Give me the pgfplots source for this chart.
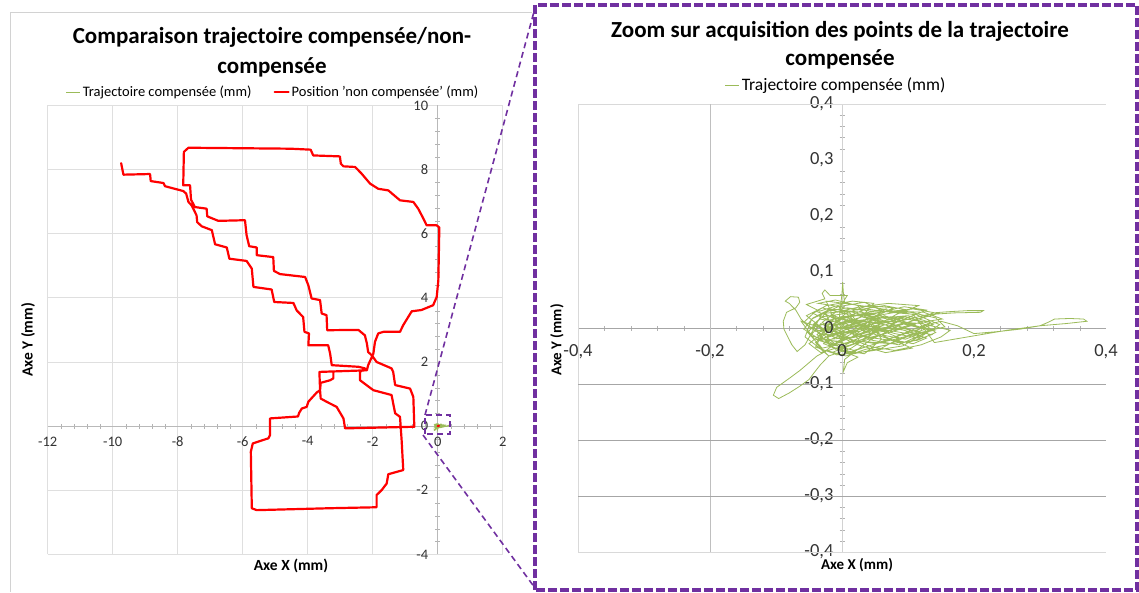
\documentclass[border=0pt]{standalone}
\usepackage{fontspec}
\setmainfont{Carlito}
\usepackage{pgfplots}
\usepackage{pgfplotstable}
\pgfplotsset{compat=1.18}
\definecolor{vert}{HTML}{9BBB59}
\definecolor{zoomviolet}{HTML}{7030A0}

% position 'non compensee' (mm)
\pgfplotstableread{
x y
-9.74 8.20
-9.67 7.84
-8.85 7.86
-8.83 7.64
-8.44 7.58
-8.39 7.48
-7.83 7.33
-7.74 7.25
-7.67 6.99
-7.57 6.88
-7.52 6.78
-7.42 6.57
-7.40 6.36
-7.26 6.23
-6.95 6.11
-6.85 5.67
-6.49 5.57
-6.41 5.22
-5.88 5.15
-5.72 4.91
-5.67 4.34
-5.11 4.26
-5.03 3.87
-4.44 3.84
-4.34 3.61
-4.14 3.40
-4.10 2.94
-3.96 2.89
-3.98 2.52
-3.37 2.52
-3.31 2.26
-3.26 1.90
-2.44 1.85
-2.24 1.80
-2.39 1.69
-2.39 1.43
-1.98 1.12
-1.42 0.97
-1.31 0.40
-1.16 0.29
-1.11 -0.44
-1.06 -1.37
-1.52 -1.50
-1.57 -1.79
-1.72 -1.99
-1.88 -2.15
-1.88 -2.53
-3.31 -2.56
-5.57 -2.62
-5.72 -2.56
-5.75 -0.80
-5.69 -0.54
-5.21 -0.38
-5.16 -0.28
-5.16 0.24
-4.30 0.30
-4.26 0.42
-4.18 0.55
-4.03 0.60
-3.98 0.76
-3.72 1.05
-3.62 1.12
-3.64 1.69
-2.18 1.74
-2.14 1.90
-1.98 2.26
-1.93 2.63
-1.83 2.89
-1.67 2.94
-1.16 2.94
-1.06 3.15
-0.80 3.58
-0.50 3.62
-0.14 3.77
-0.03 4.03
0.02 4.55
0.05 6.19
-0.03 6.26
-0.34 6.26
-0.44 6.47
-0.60 6.78
-0.75 6.99
-1.16 7.04
-1.52 7.35
-1.83 7.40
-2.08 7.56
-2.34 7.87
-2.54 8.08
-2.90 8.10
-2.98 8.18
-3.01 8.41
-3.83 8.44
-3.91 8.62
-4.54 8.65
-7.67 8.68
-7.81 8.55
-7.83 7.51
-7.62 7.51
-7.59 7.06
-7.47 6.83
-7.11 6.78
-7.09 6.54
-6.75 6.40
-5.93 6.42
-5.88 5.95
-5.80 5.61
-5.57 5.57
-5.57 5.33
-5.06 5.27
-5.04 4.84
-4.85 4.74
-4.08 4.65
-3.98 4.39
-3.88 3.98
-3.62 3.93
-3.57 3.51
-3.42 3.46
-3.40 2.99
-2.44 3.00
-2.24 2.83
-2.18 2.58
-2.14 2.31
-2.03 2.21
-1.88 2.00
-1.42 1.80
-1.37 1.69
-1.31 1.28
-0.85 1.17
-0.75 0.91
-0.72 -0.02
-2.85 -0.07
-2.90 0.24
-3.11 0.60
-3.42 0.76
-3.60 0.86
-3.62 1.12
-3.60 1.35
-3.31 1.43
-3.21 1.49
-3.21 1.69
nan nan
0.00 0.00
0.04 0.01
}\rouge

% trajectoire compensee (mm)
\pgfplotstableread{
x y
0 0
0.035 0.012
0.072 -0.008
0.110 0.006
0.064 0.022
0.012 -0.018
-0.032 0.008
-0.048 -0.014
0.006 -0.028
0.058 -0.012
0.096 -0.020
0.132 -0.004
0.088 0.014
0.030 0.028
-0.018 0.034
-0.044 0.018
-0.058 -0.002
-0.026 -0.026
0.018 -0.040
0.046 -0.030
0.084 -0.014
0.122 0.004
0.150 0.012
0.175 0.004
0.200 -0.010
0.240 -0.006
0.270 -0.002
0.300 0.004
0.312 0.010
0.322 0.016
0.345 0.017
0.366 0.016
0.371 0.012
0.340 0.008
0.300 0.004
0.250 -0.004
0.200 -0.014
0.160 -0.022
0.140 -0.026
0.108 0.024
0.052 0.036
0.004 0.044
-0.024 0.048
-0.014 0.022
0.022 0.008
0.070 -0.004
0.118 -0.014
0.092 -0.032
0.038 -0.042
-0.008 -0.048
-0.022 -0.040
-0.038 -0.050
-0.052 -0.064
-0.064 -0.076
-0.080 -0.090
-0.099 -0.106
-0.104 -0.120
-0.096 -0.126
-0.080 -0.116
-0.064 -0.104
-0.050 -0.092
-0.043 -0.081
-0.033 -0.066
-0.020 -0.050
-0.036 -0.034
-0.056 -0.016
-0.046 0.016
-0.006 0.038
0.034 0.046
0.062 0.030
0.104 0.028
0.142 0.018
0.156 0.002
0.112 -0.010
0.064 0.006
0.014 0.016
-0.038 -0.006
-0.016 -0.034
0.024 -0.052
0.008 -0.062
0.002 -0.078
0.004 -0.056
0.042 -0.022
0.086 0.004
0.124 0.020
0.138 0.027
0.160 0.029
0.190 0.031
0.214 0.031
0.210 0.028
0.170 0.027
0.130 0.024
0.080 0.010
0.026 -0.006
-0.020 -0.012
-0.052 0.004
-0.062 0.016
-0.070 0.032
-0.080 0.044
-0.086 0.048
-0.078 0.056
-0.066 0.055
-0.064 0.046
-0.070 0.036
-0.084 0.028
-0.089 0.012
-0.088 -0.002
-0.082 -0.016
-0.076 -0.030
-0.068 -0.042
-0.056 -0.030
-0.030 0.026
0.010 0.030
0.056 0.016
0.098 -0.002
0.136 -0.012
0.100 -0.026
0.048 -0.018
0.002 -0.006
-0.028 -0.018
-0.010 -0.038
0.030 -0.024
0.074 -0.028
0.114 -0.022
0.142 -0.008
0.118 0.012
0.074 0.020
0.028 0.014
-0.012 0.004
-0.040 -0.026
-0.020 -0.050
0.014 -0.036
0.050 -0.008
0.090 0.014
0.128 0.032
0.094 0.038
0.044 0.024
-0.004 0.020
-0.002 0.040
0.000 0.062
0.001 0.082
0.002 0.064
0.004 0.044
-0.034 0.030
-0.054 0.042
-0.026 0.052
-0.030 0.062
-0.026 0.068
-0.018 0.058
0.008 0.058
-0.004 0.036
0.020 0.012
0.066 -0.016
0.106 -0.036
0.066 -0.044
0.024 -0.030
-0.006 -0.014
-0.036 0.002
-0.062 0.012
-0.042 -0.020
-0.002 -0.024
0.040 -0.004
0.082 0.024
0.116 0.040
0.070 0.044
0.028 0.038
-0.010 0.028
-0.030 0.010
0.004 -0.016
0.046 -0.034
0.080 -0.040
0.120 -0.030
0.150 -0.016
0.164 -0.004
0.120 0.008
0.070 0.012
0.020 0.002
-0.024 -0.004
-0.050 -0.028
-0.032 -0.044
0.002 -0.032
0.036 -0.012
0.076 0.002
0.116 0.016
0.146 0.026
0.108 0.034
0.058 0.028
0.014 0.022
-0.020 0.014
-0.044 0.026
-0.024 0.040
0.016 0.048
0.048 0.044
0.030 0.020
-0.006 0.006
-0.028 -0.028
0.010 -0.044
0.056 -0.026
0.096 -0.010
0.138 0.006
0.096 0.020
0.050 0.004
0.006 -0.008
-0.016 -0.020
0.016 -0.016
0.054 -0.002
0.088 -0.018
0.060 -0.036
0.018 -0.046
-0.014 -0.028
-0.038 -0.012
-0.018 0.010
0.024 0.024
0.066 0.034
0.038 0.010
0.000 -0.002
0.020 0.010
-0.010 0.020
-0.030 -0.010
0.000 -0.020
0.030 0.000
0.010 0.030
-0.020 0.000
0.015 -0.010
0.045 0.015
0.025 -0.020
-0.005 0.012
-0.025 0.025
0.005 -0.035
0.040 -0.015
0.060 0.010
0.030 0.020
0.000 0.005
0.010 0.018
0.048 -0.006
0.090 0.008
0.126 -0.002
0.094 -0.016
0.052 -0.028
0.016 -0.022
-0.018 -0.008
-0.044 0.006
-0.030 0.020
0.006 0.026
0.042 0.018
0.078 0.006
0.112 -0.006
0.134 0.010
0.100 0.022
0.060 0.018
0.024 0.004
-0.012 -0.010
-0.036 -0.022
-0.012 -0.030
0.022 -0.012
0.058 0.002
0.094 -0.004
0.128 -0.018
0.108 -0.028
0.072 -0.020
0.036 -0.006
0.000 0.010
-0.034 0.016
-0.052 -0.008
-0.030 -0.036
0.008 -0.026
0.044 -0.010
0.080 -0.002
0.118 0.010
0.152 0.016
0.124 0.028
0.084 0.030
0.044 0.030
0.008 0.036
-0.022 0.030
-0.040 0.008
-0.020 -0.016
0.014 -0.004
0.052 0.010
0.092 0.020
0.070 0.000
0.030 -0.014
-0.004 -0.022
-0.024 -0.040
0.006 -0.050
0.036 -0.038
0.068 -0.030
0.102 -0.014
0.140 -0.004
0.110 0.004
0.070 0.016
0.032 0.024
-0.006 0.016
-0.040 0.030
-0.058 0.010
-0.040 -0.006
-0.008 0.000
0.026 0.010
0.062 0.024
0.100 0.032
0.064 0.040
0.022 0.032
-0.014 0.040
-0.036 0.044
-0.010 0.050
0.024 0.040
0.040 0.012
0.060 -0.020
0.034 -0.046
0.002 -0.040
-0.026 -0.014
-0.048 0.000
-0.024 0.008
0.012 -0.004
0.046 -0.022
0.086 -0.030
0.124 -0.010
0.090 0.000
0.056 -0.014
0.020 -0.028
-0.016 -0.044
-0.040 -0.034
-0.028 -0.006
0.000 0.016
0.036 0.034
0.074 0.028
0.112 0.024
0.148 0.006
0.116 -0.018
0.080 -0.010
0.040 0.004
0.004 -0.012
-0.030 0.000
-0.054 0.022
-0.030 0.036
0.004 0.026
0.040 0.040
0.078 0.036
0.050 0.020
0.016 0.008
-0.016 0.024
0.000 0.000
}\vertdata

\pgfplotsset{
  excel/.style={
    scale only axis,
    axis lines=middle,
    axis line style={-},
    major tick length=0pt,
    minor tick num=4,
    minor tick length=5pt,
    minor tick style={gray!60},
    /pgf/number format/assume math mode=true,
    legend style={draw=none, fill=none, legend columns=-1,
      /tikz/every even column/.append style={column sep=20pt}},
    legend image code/.code={\draw[##1] (0pt,0pt) -- (14pt,0pt);},
    clip=false,
  }
}

\begin{document}
\begin{tikzpicture}
\useasboundingbox (0pt,0pt) rectangle (1139pt,592pt);

% cadre du graphique de gauche
\draw[gray!35, line width=0.8pt] (10pt,0pt) -- (10pt,580pt) -- (532pt,580pt);

% titres
\node[font=\bfseries\fontsize{23}{24}\selectfont] at (272pt,555pt) {Comparaison trajectoire compensée/non-};
\node[font=\bfseries\fontsize{23}{24}\selectfont] at (272pt,525pt) {compensée};
\node[font=\bfseries\fontsize{23}{24}\selectfont] at (840pt,561pt) {Zoom sur acquisition des points de la trajectoire};
\node[font=\bfseries\fontsize{23}{24}\selectfont] at (840pt,533pt) {compensée};

% titres des axes
\node[font=\bfseries\fontsize{15.5}{16}\selectfont] at (291pt,26pt) {Axe X (mm)};
\node[font=\bfseries\fontsize{15.5}{16}\selectfont, rotate=90] at (28pt,252pt) {Axe Y (mm)};
\node[font=\bfseries\fontsize{15}{16}\selectfont] at (857pt,27pt) {Axe X (mm)};
\node[font=\bfseries\fontsize{15}{16}\selectfont, rotate=90] at (557pt,252pt) {Axe Y (mm)};

\begin{axis}[excel,
  at={(47.7pt,37.6pt)}, anchor=south west,
  width=455pt, height=449pt,
  xmin=-12, xmax=2, ymin=-4, ymax=10,
  xtick={-12,-10,-8,-6,-4,-2,0,2},
  ytick={-4,-2,0,2,4,6,8,10},
  axis line style={draw=gray!55, line width=0.8pt},
  grid=major, major grid style={draw=gray!25, line width=0.8pt},
  tick label style={font=\fontsize{14.5}{15}\selectfont, text=black!80},
  xticklabel style={yshift=-7pt},
  yticklabel style={xshift=-6pt},
  legend style={at={(0.495,1.029)}, anchor=center,
    font=\fontsize{14.5}{15}\selectfont},
  unbounded coords=jump,
]
\addplot[vert, line width=1.2pt] table {\vertdata};
\addlegendentry{Trajectoire compensée (mm)}
\addplot[red, line width=2.2pt, line join=round, line cap=round] table {\rouge};
\addlegendentry{Position 'non compensée' (mm)}
\node[anchor=east, xshift=-6pt, font=\fontsize{14.5}{15}\selectfont, text=black!80] at (0,0) {0};
\node[anchor=north, yshift=-7pt, font=\fontsize{14.5}{15}\selectfont, text=black!80] at (0,0) {0};
\end{axis}

\begin{axis}[excel,
  at={(578pt,40pt)}, anchor=south west,
  width=528pt, height=448pt,
  xmin=-0.4, xmax=0.4, ymin=-0.4, ymax=0.4,
  xtick={-0.4,-0.2,0,0.2,0.4},
  ytick={-0.4,-0.3,-0.2,-0.1,0,0.1,0.2,0.3,0.4},
  x axis line style={draw=gray!70, line width=0.8pt},
  y axis line style={draw=gray!35, line width=0.8pt},
  /pgf/number format/.cd, use comma, fixed, precision=1, assume math mode=true,
  /pgfplots/.cd,
  tick label style={font=\fontsize{18.5}{19}\selectfont, text=black!80},
  xticklabel style={yshift=-13pt},
  yticklabel style={xshift=-5pt},
  legend style={at={(0.489,1.042)}, anchor=center,
    font=\fontsize{17.5}{18}\selectfont},
]
% quadrillage partiel
\draw[gray!30, line width=0.8pt] (-0.4,-0.4) -- (-0.4,0.4) -- (0.4,0.4);
\draw[gray!30, line width=0.8pt] (-0.4,-0.4) -- (0.4,-0.4);
\draw[gray!50, line width=0.8pt] (-0.2,-0.4) -- (-0.2,0.4);
\draw[gray!70, line width=0.8pt] (-0.4,-0.1) -- (0.4,-0.1);
\draw[gray!70, line width=0.8pt] (-0.4,-0.2) -- (0.4,-0.2);
\draw[gray!70, line width=0.8pt] (-0.4,-0.3) -- (0.4,-0.3);
\addplot[vert, line width=0.8pt] table {\vertdata};
\addlegendentry{Trajectoire compensée (mm)}
\node[anchor=east, xshift=-5pt, font=\fontsize{18.5}{19}\selectfont, text=black!80] at (0,0) {0};
\node[anchor=north, yshift=-13pt, font=\fontsize{18.5}{19}\selectfont, text=black!80] at (0,0) {0};
\end{axis}

% encadre de zoom
\draw[zoomviolet, line width=4pt, dash pattern=on 9pt off 3pt] (535pt,2pt) rectangle (1137pt,587pt);
\draw[zoomviolet, line width=1.6pt, dash pattern=on 6pt off 4pt] (425pt,158pt) rectangle (450pt,177pt);
\draw[zoomviolet, line width=1.6pt, dash pattern=on 6pt off 4pt] (425pt,177pt) -- (535pt,584pt);
\draw[zoomviolet, line width=1.6pt, dash pattern=on 6pt off 4pt] (423pt,157pt) -- (535pt,4pt);
\end{tikzpicture}
\end{document}
